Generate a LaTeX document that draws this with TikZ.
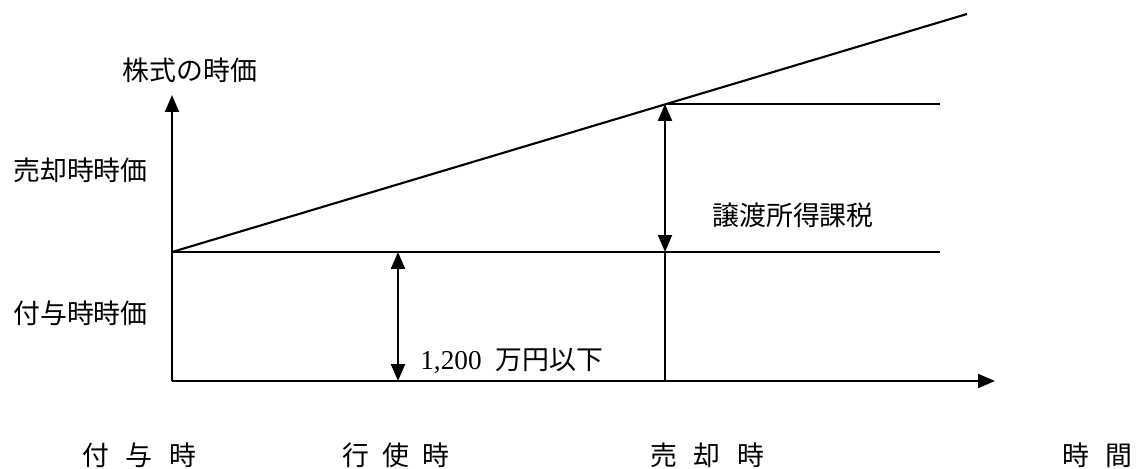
\documentclass[tikz,border=0pt]{standalone}
\usepackage{fontspec}
\newfontfamily\cjk{Noto Sans CJK JP}
\newfontfamily\lat{Liberation Serif}
\usetikzlibrary{arrows.meta}
\begin{document}
\begin{tikzpicture}[x=0.02cm,y=-0.02cm,
  ln/.style={line width=1.2pt},
  tip/.style={-{Triangle[length=0.34cm,width=0.28cm]}},
  dbl/.style={{Triangle[length=0.34cm,width=0.28cm]}-{Triangle[length=0.34cm,width=0.28cm]}},
  lbl/.style={font=\cjk\fontsize{15.3}{18}\selectfont, inner sep=0pt}]
\useasboundingbox (0,0) rectangle (1143,469);
% coordinates
\coordinate (O) at (172,381);
\coordinate (Ytip) at (172,95);
\coordinate (Xtip) at (995,381);
\coordinate (A) at (172,252);
\coordinate (D) at (967,14);
\coordinate (H) at (940,252);
\coordinate (S) at (665,104);
\coordinate (S2) at (940,104);
\coordinate (S3) at (665,252);
\coordinate (S4) at (665,381);
\coordinate (E1) at (398,252);
\coordinate (E2) at (398,381);
% axes
\draw[ln,tip] (O) -- (Ytip);
\draw[ln,tip] (O) -- (Xtip);
% lines
\draw[ln] (A) -- (D);
\draw[ln] (A) -- (H);
\draw[ln] (S) -- (S2);
\draw[ln,dbl] (S) -- (S3);
\draw[ln] (S3) -- (S4);
\draw[ln,dbl] (E1) -- (E2);
% labels
\node[lbl] (ylab) at (190,70) {株式の時価};
\node[lbl,anchor=west] (p1) at (13,170) {売却時時価};
\node[lbl,anchor=west] (p2) at (13,313) {付与時時価};
\node[lbl,anchor=west] (tax) at (712,215) {譲渡所得課税};
\node[lbl,anchor=west] (lim) at (420,361) {{\lat\fontsize{15.5}{18}\selectfont 1,200}\hspace{8pt}万円以下};
\node[lbl,anchor=west] (t1) at (82,455) {付\hspace{9.5pt}与\hspace{9.5pt}時};
\node[lbl,anchor=west] (t2) at (342,455) {行\hspace{7.5pt}使\hspace{7.5pt}時};
\node[lbl,anchor=west] (t3) at (650,455) {売\hspace{9.5pt}却\hspace{9.5pt}時};
\node[lbl,anchor=west] (t4) at (1062,455) {時\hspace{9.5pt}間};
\end{tikzpicture}
\end{document}
